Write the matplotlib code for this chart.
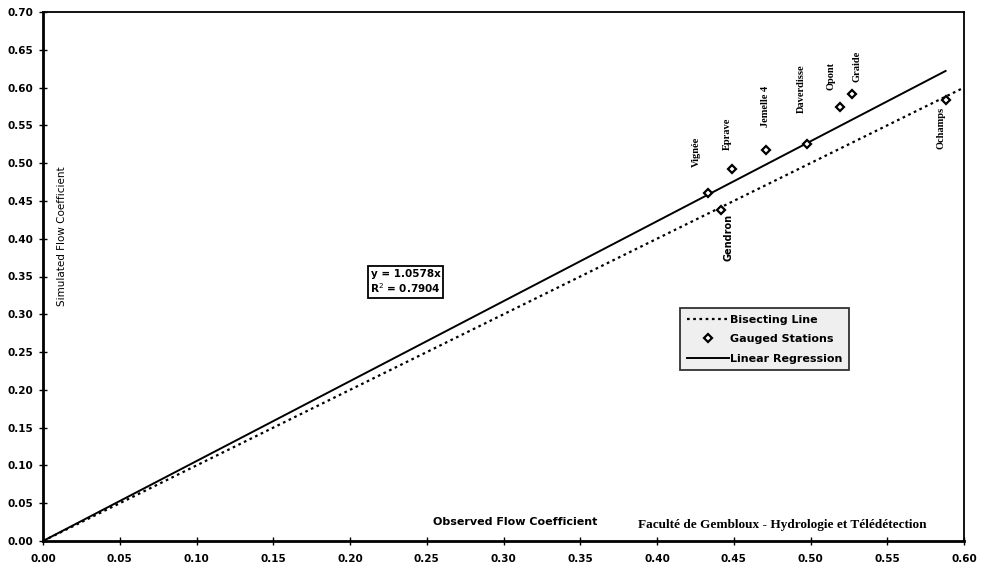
import numpy as np
import matplotlib
matplotlib.use('Agg')
import matplotlib.pyplot as plt
from matplotlib.lines import Line2D

# station data
stations = ['Vignée', 'Gendron', 'Eprave', 'Jemelle 4', 'Daverdisse', 'Opont', 'Graide', 'Ochamps']
observed = [0.433, 0.442, 0.449, 0.471, 0.498, 0.519, 0.527, 0.588]
simulated = [0.460, 0.438, 0.492, 0.517, 0.525, 0.574, 0.592, 0.584]
slope = 1.0578
r2 = 0.7904

x_ticks = [0.00, 0.05, 0.10, 0.15, 0.20, 0.25, 0.30, 0.35, 0.40, 0.45, 0.50, 0.55, 0.60]
y_ticks = [0.00, 0.05, 0.10, 0.15, 0.20, 0.25, 0.30, 0.35, 0.40, 0.45, 0.50, 0.55, 0.60, 0.65, 0.70]

# label layout: (dx px, dy px, above?)
label_pos = {
    'Vignée': (-11, 26, True),
    'Gendron': (7, -4, False),
    'Eprave': (-5, 19, True),
    'Jemelle 4': (0, 23, True),
    'Daverdisse': (-6, 31, True),
    'Opont': (-9, 17, True),
    'Graide': (5, 12, True),
    'Ochamps': (-5, -7, False),
}

fig = plt.figure(figsize=(9.87, 5.68), dpi=100)
ax = fig.add_axes([43/987, 27/568, 921/987, 529/568])

sans = 'DejaVu Sans'
serif = 'Liberation Serif'

# bisecting line
ax.plot([0, 0.6], [0, 0.6], color='black', lw=1.6, linestyle=(0, (1.2, 1.6)))
# regression line
xr = np.array([0, max(observed)])
ax.plot(xr, slope * xr, color='black', lw=1.4)
# stations
ax.plot(observed, simulated, linestyle='none', marker='D', markersize=4,
        mfc='white', mec='black', mew=1.6)

px = 0.72  # points per pixel
for name, xo, yo in zip(stations, observed, simulated):
    dx, dy, above = label_pos[name]
    fam = sans if name == 'Gendron' else serif
    ax.annotate(name, (xo, yo), xytext=(dx * px, dy * px), textcoords='offset points',
                rotation=90, ha='center', va='bottom' if above else 'top',
                fontsize=7.5 if name != 'Gendron' else 7, fontweight='bold', family=fam)

ax.set_xlim(0, 0.6)
ax.set_ylim(0, 0.7)
ax.set_xticks(x_ticks)
ax.set_yticks(y_ticks)
ax.set_xticklabels([f'{v:.2f}' for v in x_ticks])
ax.set_yticklabels([f'{v:.2f}' for v in y_ticks])
ax.tick_params(direction='inout', length=6, width=1, pad=4)
ax.tick_params(axis='x', pad=6)
for lab in ax.get_xticklabels() + ax.get_yticklabels():
    lab.set_fontsize(7.5)
    lab.set_fontweight('bold')
    lab.set_family(sans)
for side in ['left', 'bottom']:
    ax.spines[side].set_linewidth(2)
for side in ['top', 'right']:
    ax.spines[side].set_linewidth(1.3)

# axis titles drawn inside the plot area, like the original
ax.text(0.5125, 0.036, 'Observed Flow Coefficient', transform=ax.transAxes,
        ha='center', va='center', fontsize=8, fontweight='bold', family=sans)
ax.text(0.0206, 0.577, 'Simulated Flow Coefficient', transform=ax.transAxes,
        ha='center', va='center', rotation=90, fontsize=7.5, family=sans)
ax.text(0.803, 0.030, 'Faculté de Gembloux - Hydrologie et Télédétection', transform=ax.transAxes,
        ha='center', va='center', fontsize=9.5, fontweight='bold', family=serif)

# equation box
ax.text(0.3936, 0.4896, f'y = {slope:.4f}x\nR$^2$ = {r2:.4f}', transform=ax.transAxes,
        ha='center', va='center', fontsize=7.5, fontweight='bold', family=sans,
        linespacing=1.2,
        bbox=dict(boxstyle='square,pad=0.25', fc='white', ec='black', lw=1.3))

handles = [
    Line2D([], [], color='black', lw=1.6, linestyle=(0, (1.2, 1.6))),
    Line2D([], [], linestyle='none', marker='D', markersize=4, mfc='white', mec='black', mew=1.6),
    Line2D([], [], color='black', lw=1.4),
]
leg = ax.legend(handles, ['Bisecting Line', 'Gauged Stations', 'Linear Regression'],
                loc='upper left', bbox_to_anchor=(0.692, 0.4405), frameon=True,
                fancybox=False, handlelength=3.8, handletextpad=0.1, borderpad=0.6,
                borderaxespad=0, labelspacing=0.85,
                prop={'family': sans, 'weight': 'bold', 'size': 8})
leg.get_frame().set_edgecolor('black')
leg.get_frame().set_linewidth(1.3)
leg.get_frame().set_facecolor('#ececec')

fig.savefig('out.png', dpi=100)
